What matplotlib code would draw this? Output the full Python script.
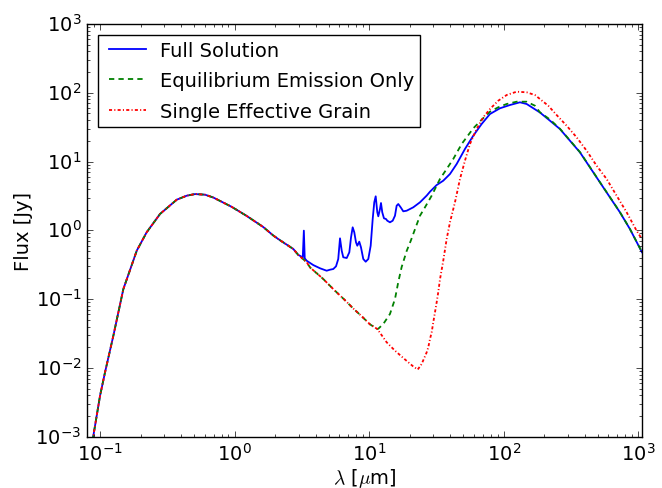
import matplotlib
matplotlib.use("Agg")
import matplotlib.pyplot as plt
import numpy as np

plt.style.use("classic")
plt.rcParams["font.family"] = ["DejaVu Sans"]
plt.rcParams["font.size"] = 14

# ---- data (wavelength in micron, flux in Jy) ----
wl_star = [0.088, 0.1, 0.109, 0.1256, 0.149, 0.1874, 0.222, 0.279, 0.3715, 0.4405,
           0.508, 0.6026, 0.695, 0.95, 1.23, 1.63, 1.94, 2.17, 2.73, 2.97]
fx_star = [0.00088, 0.00394, 0.0087, 0.0294, 0.140, 0.506, 0.936, 1.73, 2.79, 3.19,
           3.37, 3.30, 3.0, 2.2, 1.62, 1.12, 0.84, 0.72, 0.536, 0.44]

wl_full_ir = [3.21, 3.27, 3.32, 3.43, 3.84, 4.31, 4.83, 5.12, 5.41, 5.67, 5.89, 6.07,
              6.25, 6.42, 6.81, 7.12, 7.33, 7.54, 7.75, 7.98, 8.16, 8.44, 8.69, 9.04,
              9.42, 9.85, 10.26, 10.62, 10.91, 11.18, 11.49, 11.69, 12.03, 12.24,
              12.51, 12.88, 13.33, 13.63, 14.27, 14.95, 15.55, 16.0, 16.45, 17.14,
              17.92, 18.99, 21.27, 23.85, 26.75, 28.3, 31.73, 35.52, 39.84, 44.67,
              51.48, 59.35, 68.5, 79.0, 93.7, 111.2, 131.9, 148.0, 185.8, 220.4,
              261.5, 310.3, 368.3, 436.9, 518.4, 615.2, 730.0, 866.0, 1028.0, 1063.0]
fx_full_ir = [0.405, 0.99, 0.392, 0.362, 0.313, 0.281, 0.259, 0.268, 0.274, 0.300, 0.383,
              0.766, 0.506, 0.406, 0.396, 0.480, 0.792, 1.107, 0.937, 0.670, 0.598,
              0.684, 0.567, 0.383, 0.350, 0.383, 0.598, 1.462, 2.557, 3.126, 1.829,
              1.600, 2.043, 2.497, 1.829, 1.496, 1.462, 1.381, 1.309, 1.381, 1.632,
              2.281, 2.415, 2.163, 1.891, 1.930, 2.163, 2.557, 3.2, 3.646, 4.56, 5.27,
              6.59, 9.21, 15.22, 23.77, 35.17, 49.15, 59.5, 66.4, 72.7, 68.7, 51.7,
              39.3, 29.74, 20.11, 13.63, 8.25, 4.99, 3.02, 1.829, 1.046, 0.548, 0.481]

wl_cont = [3.44, 3.63, 4.56, 5.41, 6.61, 7.62, 8.8, 10.14, 11.49]
fx_cont = [0.343, 0.29, 0.196, 0.140, 0.0964, 0.073, 0.0563, 0.043, 0.0368]

wl_eq_ir = [11.7, 12.73, 14.27, 15.55, 16.45, 17.43, 18.99, 20.34, 21.52, 23.85, 25.98,
            29.13, 33.57, 37.65, 42.15, 48.67, 59.35, 68.5, 79.0, 91.0, 105.1, 124.7,
            148.0, 170.5, 185.8, 220.4, 261.5, 310.3, 368.3, 436.9, 518.4, 615.2,
            730.0, 866.0, 1028.0, 1063.0]
fx_eq_ir = [0.0372, 0.0435, 0.0608, 0.1004, 0.177, 0.293, 0.501, 0.70, 0.946, 1.632,
            2.163, 3.19, 5.58, 7.80, 10.9, 18.0, 30.4, 40.6, 53.1, 61.5, 68.7, 74.2,
            74.2, 64.9, 52.0, 40.9, 30.0, 20.3, 13.75, 8.3, 5.02, 3.04, 1.84, 1.05,
            0.55, 0.49]

wl_seg_ir = [13.49, 15.55, 18.29, 21.27, 22.96, 24.55, 26.75, 27.49, 28.3, 29.13, 29.94,
             30.83, 31.73, 32.62, 33.57, 35.52, 37.65, 39.84, 43.4, 47.28, 51.48, 56.09,
             62.9, 70.4, 79.0, 91.0, 105.1, 124.7, 148.0, 170.5, 185.8, 214.1, 247.2,
             293.4, 348.0, 413.0, 489.9, 581.5, 690.0, 819.0, 971.0, 1063.0]
fx_seg_ir = [0.02356, 0.0178, 0.01347, 0.01048, 0.00948, 0.0114, 0.01686, 0.0199, 0.0263,
             0.0329, 0.046, 0.0643, 0.0899, 0.127, 0.193, 0.362, 0.748, 1.309, 2.557,
             5.58, 10.29, 18.0, 29.74, 44.0, 58.1, 76.7, 92.8, 103.7, 101.6, 92.8, 81.2,
             64.9, 47.5, 33.2, 22.5, 14.38, 8.71, 5.58, 3.19, 1.829, 0.988, 0.748]

labels = ["Full Solution", "Equilibrium Emission Only", "Single Effective Grain"]

wl_full = wl_star + wl_full_ir
fx_full = fx_star + fx_full_ir
wl_eq = wl_star + wl_cont + wl_eq_ir
fx_eq = fx_star + fx_cont + fx_eq_ir
wl_seg = wl_star + wl_cont + wl_seg_ir
fx_seg = fx_star + fx_cont + fx_seg_ir

fig = plt.figure(figsize=(6.62, 4.89), dpi=100, facecolor="white")
ax = fig.add_axes([87 / 662, 51.3 / 489, 555 / 662, 412.7 / 489])
ax.set_facecolor("white")

ax.loglog(wl_full, fx_full, "b-", lw=1.3, label=labels[0])
ax.loglog(wl_eq, fx_eq, color="g", ls=(0, (3.8, 3.0)), lw=1.3, label=labels[1])
ax.loglog(wl_seg, fx_seg, color="r", ls=(0, (2.2, 1.6, 0.8, 1.6)), lw=1.3,
          label=labels[2])

ax.set_xlim(0.08, 1065)
ax.set_ylim(1e-3, 1e3)
ax.set_xlabel(r"$\lambda$ [$\mu$m]", labelpad=1)
ax.set_ylabel("Flux [Jy]", labelpad=2)

leg = ax.legend(loc="upper left", fontsize=14, handlelength=2.5,
                handletextpad=0.4, borderpad=0.3,
                borderaxespad=0.55, labelspacing=0.6)
leg.get_frame().set_edgecolor("black")

fig.savefig("out.png", dpi=100, facecolor="white")
